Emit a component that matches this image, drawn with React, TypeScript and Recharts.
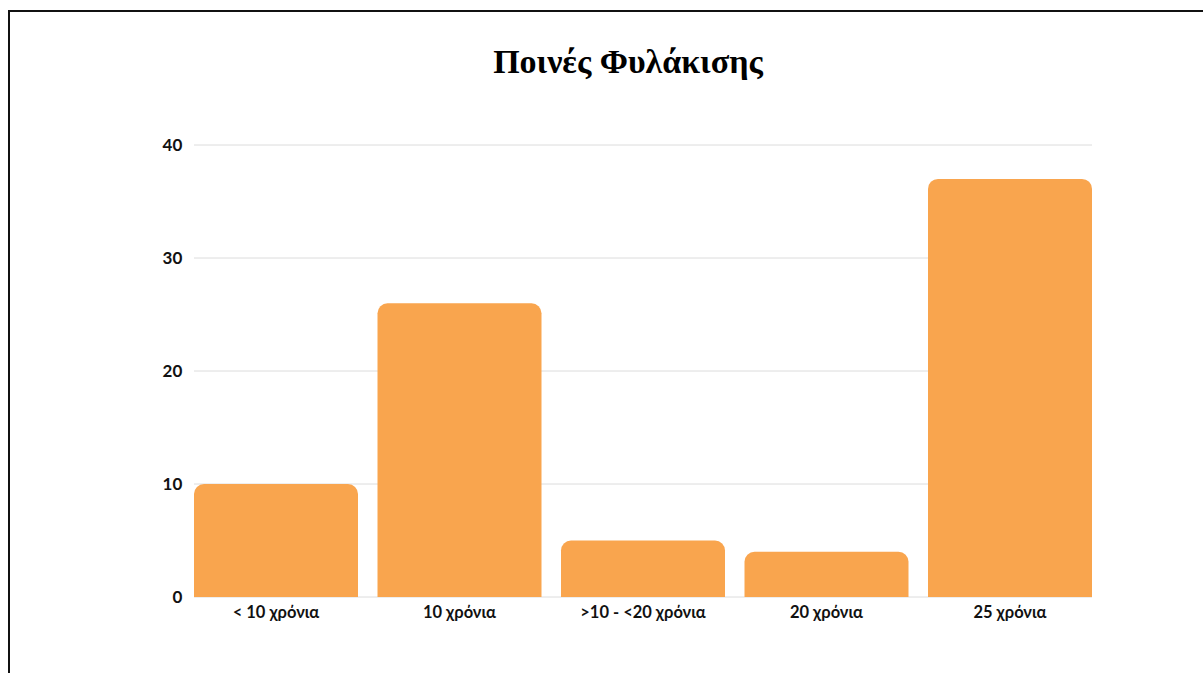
import React from 'react'
import { BarChart, Bar, XAxis, YAxis, CartesianGrid } from 'recharts'

const categories = ['< 10 χρόνια', '10 χρόνια', '>10 - <20 χρόνια', '20 χρόνια', '25 χρόνια']
const counts = [10, 26, 5, 4, 37]
const yTicks = [0, 10, 20, 30, 40]

const chartData = categories.map((name, i) => ({ name, value: counts[i] }))

const tickFont = { fontFamily: 'Lato, "Noto Sans", sans-serif', fontWeight: 700, fill: '#111' }

export default function App() {
  return (
    <div style={{ position: 'absolute', left: 0, top: 0, width: 1203, height: 673, overflow: 'hidden', background: '#fff' }}>
      <div
        style={{
          position: 'absolute',
          left: 8,
          top: 10,
          width: 1195,
          height: 663,
          borderTop: '2px solid #111',
          borderLeft: '2px solid #111',
          boxSizing: 'border-box',
        }}
      />
      <div
        style={{
          position: 'absolute',
          left: 0,
          width: 1256,
          top: 43,
          textAlign: 'center',
          fontFamily: '"Liberation Serif", "Times New Roman", serif',
          fontWeight: 700,
          fontSize: 34,
          color: '#000',
        }}
      >
        Ποινές Φυλάκισης
      </div>
      <div style={{ position: 'absolute', left: 0, top: 0 }}>
        <BarChart
          width={1203}
          height={673}
          data={chartData}
          margin={{ top: 145, right: 101.25, bottom: 0, left: 0 }}
          barCategoryGap={9.75}
        >
          <CartesianGrid vertical={false} stroke="#dcdcdc" x={194} width={898} />
          <YAxis
            width={184.25}
            domain={[0, 40]}
            ticks={yTicks}
            axisLine={false}
            tickLine={false}
            tickSize={0}
            tickMargin={2}
            tick={{ ...tickFont, fontSize: 17 }}
          />
          <XAxis
            dataKey="name"
            height={76}
            axisLine={false}
            tickLine={false}
            tickSize={0}
            tickMargin={9}
            interval={0}
            tick={{ ...tickFont, fontSize: 16.5 }}
          />
          <Bar dataKey="value" fill="#f9a54e" radius={[10, 10, 0, 0]} isAnimationActive={false} />
        </BarChart>
      </div>
    </div>
  )
}
